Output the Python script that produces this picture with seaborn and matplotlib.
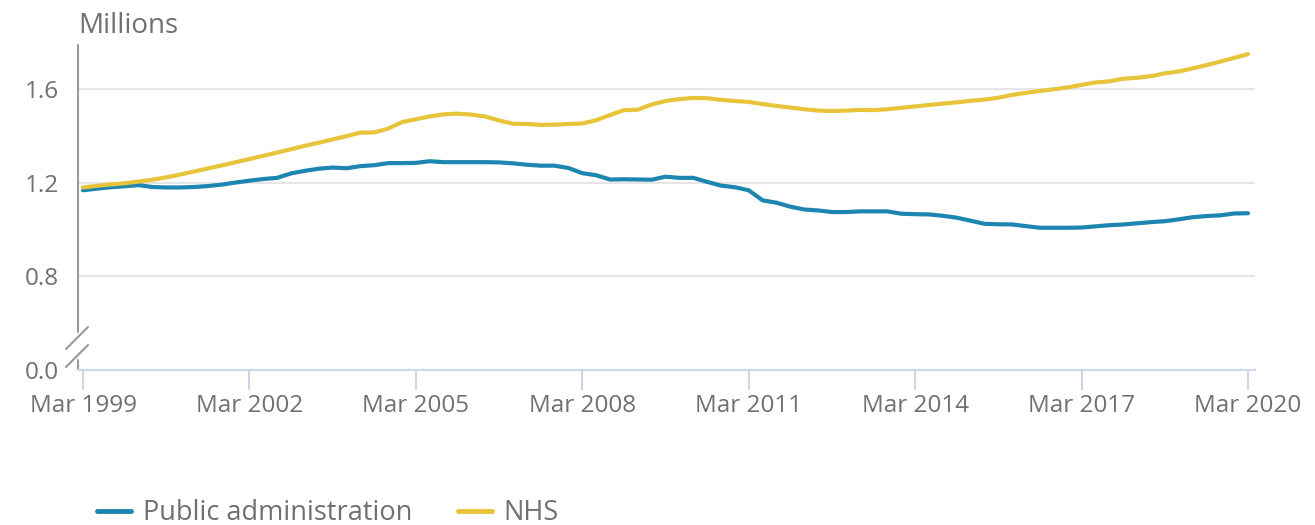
import numpy as np
import pandas as pd
import matplotlib
matplotlib.use("Agg")
import matplotlib.pyplot as plt
import seaborn as sns

# ---- data (millions, quarterly Mar 1999 .. Mar 2020) ----
quarters = [str(p) for p in pd.period_range("1999Q1", "2020Q1", freq="Q")]

public_admin = [
    1.167, 1.174, 1.180, 1.184, 1.189, 1.181, 1.179, 1.179, 1.181, 1.185,
    1.191, 1.200, 1.208, 1.215, 1.220, 1.239, 1.250, 1.259, 1.264, 1.261,
    1.270, 1.274, 1.283, 1.283, 1.284, 1.291, 1.287, 1.287, 1.287, 1.287,
    1.286, 1.282, 1.276, 1.272, 1.272, 1.262, 1.240, 1.231, 1.213, 1.214,
    1.213, 1.212, 1.225, 1.220, 1.220, 1.203, 1.187, 1.180, 1.167, 1.124,
    1.114, 1.097, 1.085, 1.081, 1.074, 1.074, 1.077, 1.077, 1.077, 1.067,
    1.065, 1.064, 1.058, 1.050, 1.037, 1.024, 1.022, 1.021, 1.014, 1.007,
    1.007, 1.007, 1.008, 1.013, 1.018, 1.021, 1.026, 1.031, 1.035, 1.043,
    1.052, 1.057, 1.060, 1.068, 1.069,
]

nhs = [
    1.179, 1.186, 1.192, 1.197, 1.204, 1.212, 1.222, 1.234, 1.247, 1.260,
    1.273, 1.287, 1.300, 1.314, 1.328, 1.342, 1.357, 1.370, 1.384, 1.398,
    1.413, 1.414, 1.430, 1.458, 1.470, 1.482, 1.491, 1.494, 1.490, 1.482,
    1.465, 1.451, 1.450, 1.446, 1.447, 1.450, 1.452, 1.466, 1.488, 1.509,
    1.511, 1.533, 1.548, 1.556, 1.561, 1.560, 1.553, 1.548, 1.544, 1.535,
    1.527, 1.520, 1.513, 1.507, 1.505, 1.507, 1.510, 1.509, 1.513, 1.519,
    1.525, 1.531, 1.537, 1.542, 1.549, 1.554, 1.562, 1.574, 1.583, 1.591,
    1.598, 1.606, 1.617, 1.627, 1.632, 1.643, 1.647, 1.654, 1.666, 1.674,
    1.687, 1.701, 1.716, 1.732, 1.748,
]

series_names = ["Public administration", "NHS"]
series_colors = ["#1d86b0", "#e8c43a"]

x_tick_labels = ["Mar 1999", "Mar 2002", "Mar 2005", "Mar 2008",
                 "Mar 2011", "Mar 2014", "Mar 2017", "Mar 2020"]
y_tick_values = [0.4, 0.8, 1.2, 1.6]      # 0.4 position carries the broken "0.0"
y_tick_labels = ["0.0", "0.8", "1.2", "1.6"]

# ---- build long table ----
idx = np.arange(len(quarters))
df = pd.concat([
    pd.DataFrame({"q": idx, "value": public_admin, "series": series_names[0]}),
    pd.DataFrame({"q": idx, "value": nhs, "series": series_names[1]}),
])

sns.set_theme(style="white")
plt.rcParams["font.family"] = ["Open Sans", "DejaVu Sans"]
text_color = "#707070"

fig = plt.figure(figsize=(13.15, 5.25), dpi=100)
W, H = 1315, 525
ax = fig.add_axes([78 / W, 1 - 370 / H, (1255 - 78) / W, (370 - 45) / H])

sns.lineplot(data=df, x="q", y="value", hue="series", hue_order=series_names,
             palette=series_colors, linewidth=3.0, ax=ax, legend=True)

# axes limits
px_per_q = (1248 - 83) / (len(quarters) - 1)
ax.set_xlim(-5 / px_per_q, len(quarters) - 1 + 7 / px_per_q)
ax.set_ylim(0.4, 1.787)

# grid
for v in y_tick_values[1:]:
    ax.axhline(v, color="#e6e6e6", lw=1.5, zorder=0)

# ticks
xt_pos = [quarters.index(q) for q in
          [f"{lbl.split()[1]}Q1" for lbl in x_tick_labels]]
ax.set_xticks(xt_pos)
ax.set_xticklabels(x_tick_labels)
ax.set_yticks(y_tick_values)
ax.set_yticklabels(y_tick_labels)
ax.tick_params(axis="x", direction="out", length=14.4, width=1.5,
               color="#ccd6eb", labelsize=17.5, labelcolor=text_color, pad=3,
               bottom=True)
ax.tick_params(axis="y", length=0, labelsize=17.5, labelcolor=text_color,
               pad=14)
ax.set_xlabel("")
ax.set_ylabel("")

# spines
for s in ["top", "right", "left"]:
    ax.spines[s].set_visible(False)
ax.spines["bottom"].set_color("#ccd6eb")
ax.spines["bottom"].set_linewidth(1.5)

# broken y axis spine
def fy(py):
    return (370 - py) / (370 - 45)
def fx(px):
    return (px - 78) / (1255 - 78)
spine_kw = dict(color="#999999", lw=1.5, transform=ax.transAxes, clip_on=False)
ax.plot([0, 0], [fy(45), fy(332)], **spine_kw)
ax.plot([0, 0], [fy(360), fy(370)], **spine_kw)
ax.plot([fx(66), fx(88)], [fy(349), fy(327)], **spine_kw)
ax.plot([fx(66), fx(88)], [fy(367), fy(345)], **spine_kw)

# title
fig.text(78 / W, 1 - 26 / H, "Millions", ha="left", va="center",
         fontsize=20, color=text_color)

# legend
handles, labels = ax.get_legend_handles_labels()
ax.legend_.remove()
for h in handles:
    h.set_linewidth(3.5)
fig.legend(handles, labels, loc="center left",
           bbox_to_anchor=(97 / W, 1 - 513 / H), ncol=2, frameon=False,
           fontsize=19.5, labelcolor=text_color, handlelength=1.26,
           handletextpad=0.44, columnspacing=1.67, borderpad=0,
           borderaxespad=0)

fig.savefig("out.png", dpi=100)
